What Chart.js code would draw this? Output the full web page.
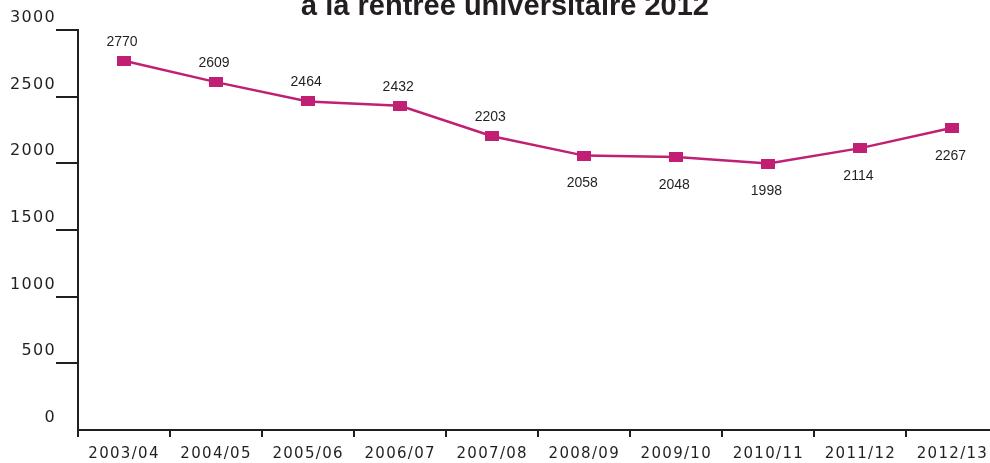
<!DOCTYPE html>
<html>
<head>
<meta charset="utf-8">
<script src="https://cdn.jsdelivr.net/npm/chart.js@4/dist/chart.umd.min.js"></script>
<style>
  html, body { margin: 0; padding: 0; background: #fff; overflow: hidden; }
  #wrap { width: 1004px; height: 463px; }
</style>
</head>
<body>
<div id="wrap"><canvas id="chart" width="1004" height="463"></canvas></div>
<script>
const titleText = 'à la rentrée universitaire 2012';
const years = ['2003/04', '2004/05', '2005/06', '2006/07', '2007/08', '2008/09', '2009/10', '2010/11', '2011/12', '2012/13'];
const students = [2770, 2609, 2464, 2432, 2203, 2058, 2048, 1998, 2114, 2267];

const ink = '#231f20';
const magenta = '#c11f74';

// rectangular marker (wider than tall)
const marker = document.createElement('canvas');
marker.width = 14;
marker.height = 10;
const mctx = marker.getContext('2d');
mctx.fillStyle = magenta;
mctx.fillRect(0, 0, 14, 10);

const spacing = {
    id: 'spacing',
    beforeUpdate(chart) { chart.ctx.letterSpacing = '1.3px'; },
    beforeDraw(chart) { chart.ctx.letterSpacing = '1.3px'; }
};

const titleLine = {
    id: 'titleLine',
    afterDraw(chart) {
        const ctx = chart.ctx;
        ctx.save();
        ctx.letterSpacing = '0px';
        ctx.font = 'bold 29px "Liberation Sans", Arial, sans-serif';
        ctx.fillStyle = ink;
        ctx.textAlign = 'center';
        ctx.textBaseline = 'alphabetic';
        ctx.fillText(titleText, 505, 15);
        ctx.restore();
    }
};

const valueLabels = {
    id: 'valueLabels',
    afterDatasetsDraw(chart) {
        const ctx = chart.ctx;
        const meta = chart.getDatasetMeta(0);
        ctx.save();
        ctx.letterSpacing = '0px';
        ctx.font = '14px "Liberation Sans Narrow", "Liberation Sans", sans-serif';
        ctx.fillStyle = ink;
        ctx.textAlign = 'center';
        ctx.textBaseline = 'middle';
        meta.data.forEach((pt, i) => {
            const dy = i < 5 ? -19 : 28;
            ctx.fillText(String(students[i]), pt.x - 2, pt.y + dy);
        });
        ctx.restore();
    }
};

new Chart(document.getElementById('chart'), {
    type: 'line',
    data: {
        labels: years,
        datasets: [{
            data: students,
            borderColor: magenta,
            borderWidth: 2.5,
            pointStyle: marker,
            pointHoverRadius: 0,
            tension: 0
        }]
    },
    options: {
        responsive: false,
        animation: false,
        events: [],
        layout: { padding: { top: 30, right: 2, left: 0, bottom: 0 } },
        plugins: { legend: { display: false }, tooltip: { enabled: false } },
        scales: {
            x: {
                type: 'category',
                offset: true,
                grid: { offset: true, drawOnChartArea: false, tickLength: 7, lineWidth: 2, color: ink },
                border: { color: ink, width: 2 },
                ticks: { padding: 8, color: ink, maxRotation: 0, autoSkip: false, font: { family: '"DejaVu Sans", sans-serif', size: 15 } },
                afterFit: s => { s.height = 33; }
            },
            y: {
                min: 0,
                max: 3000,
                grid: {
                    drawOnChartArea: false,
                    tickLength: 22,
                    lineWidth: 2,
                    color: c => (c.tick && c.tick.value === 0) ? 'rgba(0,0,0,0)' : ink
                },
                border: { color: ink, width: 2 },
                ticks: {
                    stepSize: 500,
                    padding: 0,
                    labelOffset: -12,
                    color: ink,
                    font: { family: '"DejaVu Sans", sans-serif', size: 16 },
                    callback: v => String(v)
                },
                afterFit: s => { s.width = 78; }
            }
        }
    },
    plugins: [spacing, valueLabels, titleLine]
});
</script>
</body>
</html>
